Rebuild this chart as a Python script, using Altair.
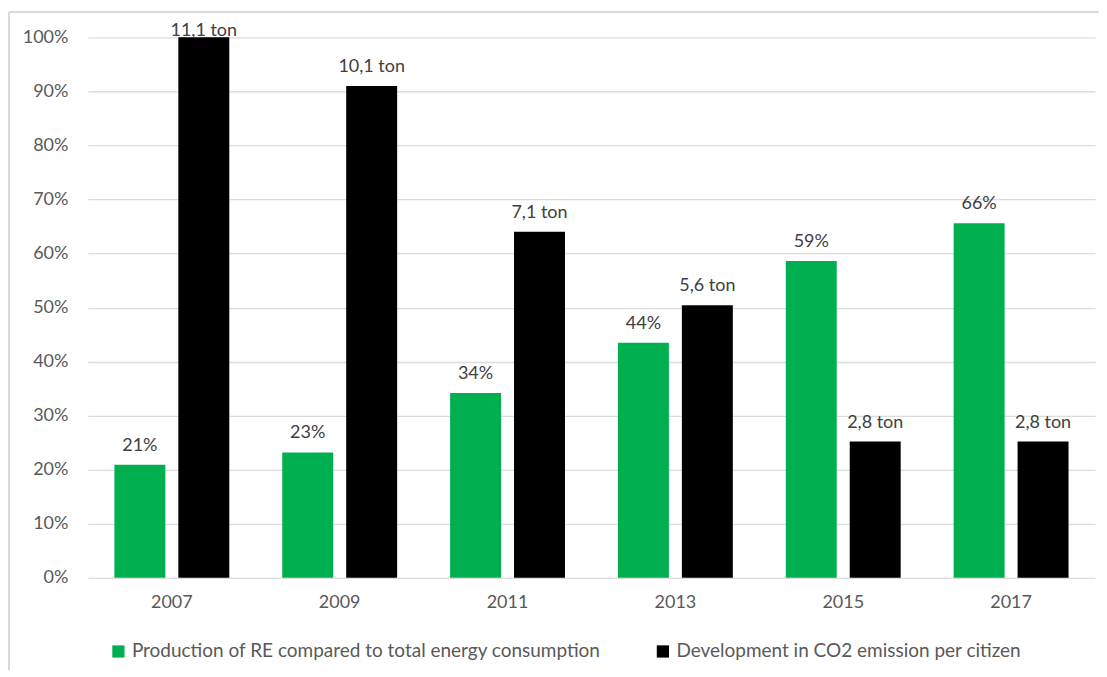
import altair as alt
import pandas as pd

years = ["2007", "2009", "2011", "2013", "2015", "2017"]
series_names = ["Production of RE compared to total energy consumption",
                "Development in CO2 emission per citizen"]
re_share = [20.9, 23.2, 34.2, 43.5, 58.6, 65.6]
re_labels = ["21%", "23%", "34%", "44%", "59%", "66%"]
co2_index = [100.0, 91.0, 64.0, 50.4, 25.2, 25.2]
co2_labels = ["11,1 ton", "10,1 ton", "7,1 ton", "5,6 ton", "2,8 ton", "2,8 ton"]

rows = []
for i, y in enumerate(years):
    rows.append({"year": y, "series": series_names[0], "value": re_share[i], "label": re_labels[i]})
    rows.append({"year": y, "series": series_names[1], "value": co2_index[i], "label": co2_labels[i]})
df = pd.DataFrame(rows)

FONT = "Lato"
GRAY = "#595959"
FS = 18
W, H = 1008, 541

x_enc = alt.X("year:N", sort=years, title=None,
              scale=alt.Scale(paddingInner=0.3155, paddingOuter=0.1577),
              axis=alt.Axis(labelAngle=0, ticks=False, domain=False, grid=False, labelPadding=16,
                            labelFontSize=FS, labelColor=GRAY, labelFont=FONT))
off_enc = alt.XOffset("series:N", sort=series_names,
                      scale=alt.Scale(paddingInner=0.203, paddingOuter=0))
y_enc = alt.Y("value:Q", title=None,
              scale=alt.Scale(domain=[0, 100], nice=False),
              axis=alt.Axis(values=list(range(0, 101, 10)), labelExpr="datum.value + '%'",
                            ticks=False, domain=False, gridColor="#dcdcdc", gridWidth=1.3,
                            labelPadding=20, labelFontSize=FS, labelColor=GRAY, labelFont=FONT))

bars = alt.Chart(df).mark_bar().encode(
    x=x_enc, xOffset=off_enc, y=y_enc,
    color=alt.Color("series:N", sort=series_names,
                    scale=alt.Scale(domain=series_names, range=["#00B050", "#000000"]),
                    legend=alt.Legend(title=None, orient="none", direction="horizontal",
                                      legendX=21, legendY=605, symbolType="square",
                                      symbolSize=150, symbolStrokeWidth=0,
                                      labelFontSize=19, labelColor=GRAY, labelFont=FONT,
                                      labelLimit=0, labelOffset=4, columnPadding=52)),
)

labels = alt.Chart(df).transform_calculate(
    pos="min(datum.value, 97.7)"
).mark_text(baseline="alphabetic", dy=-14, fontSize=FS, color="#404040", font=FONT).encode(
    x=alt.X("year:N", sort=years),
    xOffset=alt.XOffset("series:N", sort=series_names),
    y=alt.Y("pos:Q"),
    text="label:N",
)

frame_top = alt.Chart(df).mark_rule(color="#d9d9d9", strokeWidth=1.5, clip=False).encode(
    x=alt.value(-79), x2=alt.value(W + 20), y=alt.value(-25))
frame_left = alt.Chart(df).mark_rule(color="#d9d9d9", strokeWidth=1.5, clip=False).encode(
    x=alt.value(-79), y=alt.value(-25), y2=alt.value(H + 110))

chart = alt.layer(bars, labels, frame_top, frame_left).properties(
    width=W, height=H,
    autosize=alt.AutoSizeParams(type="none"),
    padding={"left": 80, "top": 29, "right": 4, "bottom": 92},
    background="white",
).configure_view(strokeWidth=0, stroke="transparent")

chart.save("out.html", embed_options={"renderer": "svg", "actions": False})
